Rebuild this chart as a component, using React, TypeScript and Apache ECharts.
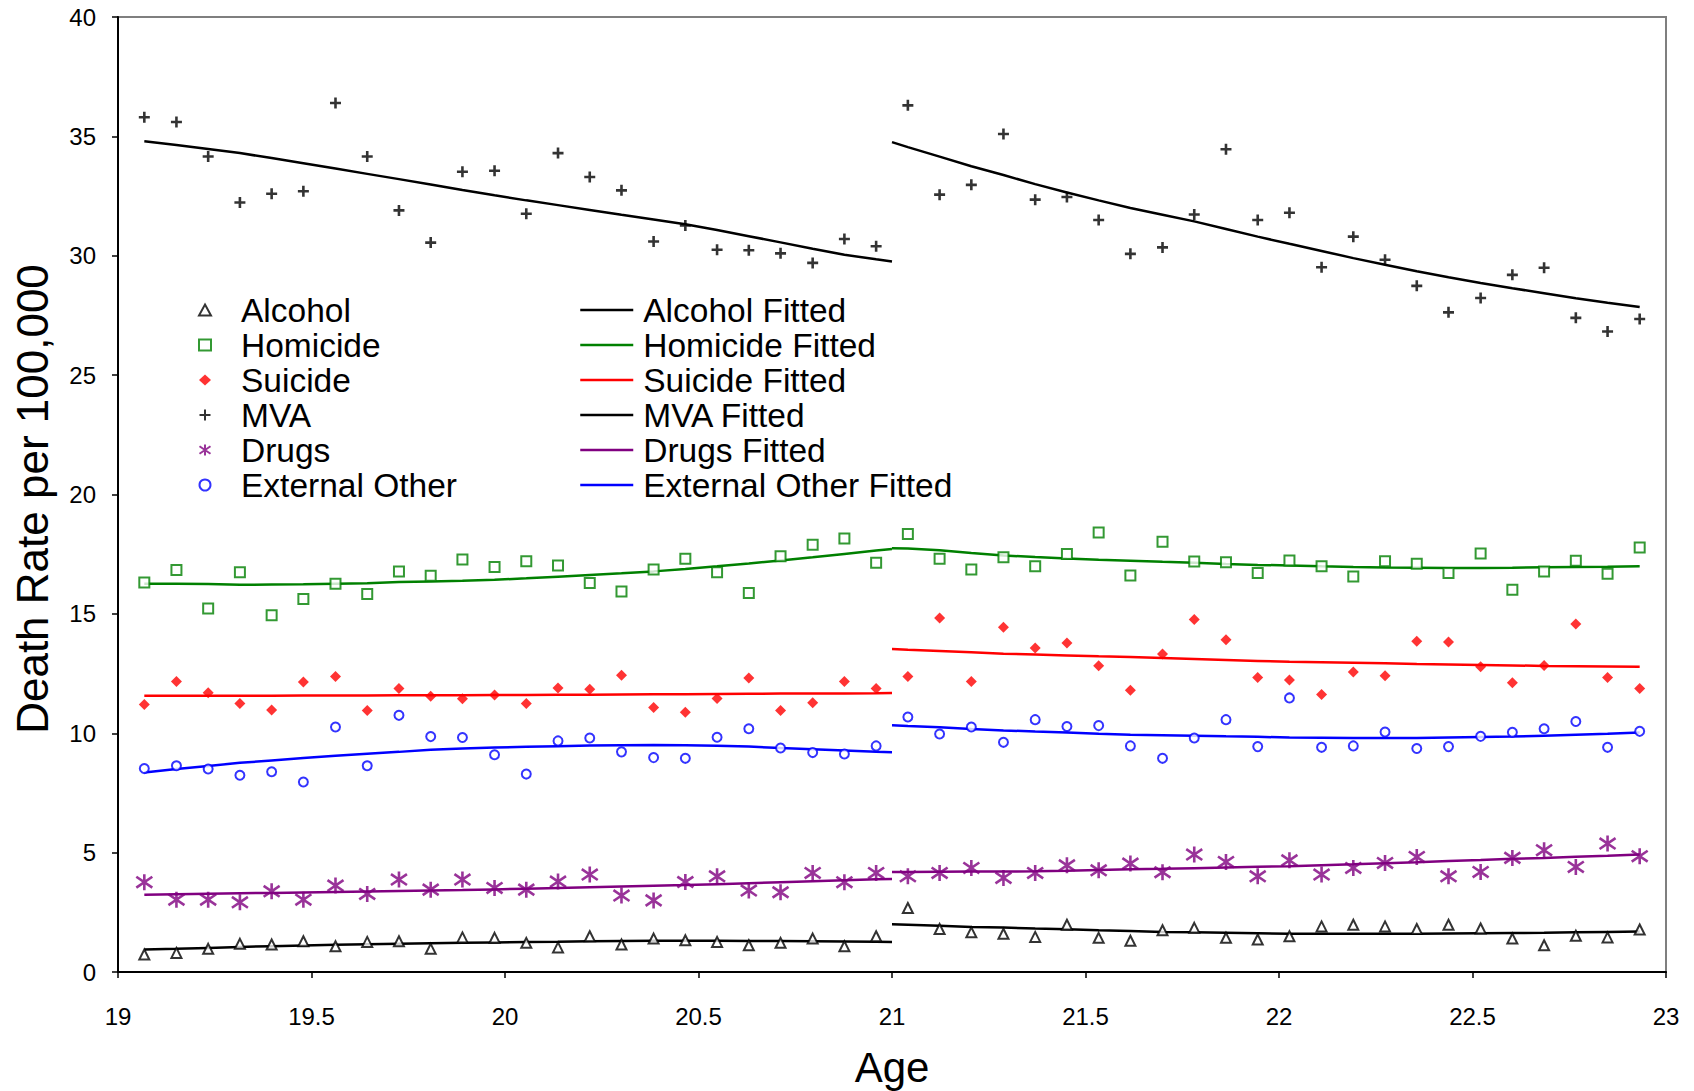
import React, { useEffect, useRef } from "react";
import * as echarts from "echarts";

// Ages (years) of the monthly observations, before and after age 21
const agesLeft = [19.068, 19.151, 19.233, 19.315, 19.397, 19.479, 19.562, 19.644, 19.726, 19.808, 19.89, 19.973, 20.055, 20.137, 20.219, 20.301, 20.384, 20.466, 20.548, 20.63, 20.712, 20.795, 20.877, 20.959];
const agesRight = [21.041, 21.123, 21.205, 21.288, 21.37, 21.452, 21.534, 21.616, 21.699, 21.781, 21.863, 21.945, 22.027, 22.11, 22.192, 22.274, 22.356, 22.438, 22.521, 22.603, 22.685, 22.767, 22.849, 22.932];
const cutoffAge = [21];

// Observed death rates
const alcoholL = [0.73, 0.8, 0.97, 1.18, 1.15, 1.29, 1.08, 1.26, 1.29, 0.97, 1.45, 1.43, 1.22, 1.03, 1.5, 1.15, 1.4, 1.33, 1.26, 1.12, 1.22, 1.4, 1.08, 1.5];
const alcoholR = [2.68, 1.8, 1.66, 1.6, 1.47, 1.98, 1.43, 1.31, 1.75, 1.85, 1.43, 1.36, 1.5, 1.91, 1.98, 1.91, 1.8, 1.98, 1.82, 1.4, 1.12, 1.52, 1.45, 1.78];
const homicideL = [16.31, 16.84, 15.22, 16.74, 14.94, 15.62, 16.26, 15.83, 16.78, 16.6, 17.28, 16.96, 17.2, 17.03, 16.29, 15.94, 16.86, 17.31, 16.74, 15.87, 17.41, 17.9, 18.16, 17.14];
const homicideR = [18.35, 17.31, 16.86, 17.37, 17.0, 17.51, 18.41, 16.61, 18.02, 17.19, 17.16, 16.71, 17.24, 17.0, 16.57, 17.2, 17.1, 16.71, 17.53, 16.01, 16.78, 17.23, 16.68, 17.78];
const suicideL = [11.2, 12.17, 11.7, 11.25, 10.97, 12.15, 12.38, 10.95, 11.87, 11.55, 11.45, 11.6, 11.25, 11.9, 11.84, 12.43, 11.08, 10.88, 11.46, 12.31, 10.95, 11.28, 12.17, 11.87];
const suicideR = [12.38, 14.83, 12.17, 14.44, 13.57, 13.78, 12.83, 11.8, 13.32, 14.76, 13.92, 12.34, 12.23, 11.62, 12.57, 12.41, 13.85, 13.82, 12.79, 12.12, 12.84, 14.58, 12.33, 11.87];
const mvaL = [35.8, 35.6, 34.16, 32.23, 32.6, 32.7, 36.4, 34.16, 31.9, 30.55, 33.52, 33.56, 31.76, 34.3, 33.3, 32.74, 30.6, 31.27, 30.25, 30.23, 30.1, 29.7, 30.7, 30.4];
const mvaR = [36.3, 32.56, 32.97, 35.1, 32.35, 32.46, 31.5, 30.08, 30.35, 31.73, 34.46, 31.5, 31.8, 29.52, 30.8, 29.83, 28.74, 27.63, 28.23, 29.2, 29.5, 27.4, 26.83, 27.35];
const drugsL = [3.76, 3.03, 3.03, 2.92, 3.38, 3.03, 3.62, 3.27, 3.87, 3.45, 3.87, 3.52, 3.45, 3.79, 4.08, 3.2, 3.0, 3.77, 4.01, 3.41, 3.34, 4.15, 3.76, 4.15];
const drugsR = [4.01, 4.15, 4.36, 3.94, 4.15, 4.47, 4.26, 4.54, 4.18, 4.92, 4.61, 4.01, 4.68, 4.08, 4.36, 4.57, 4.82, 4.01, 4.19, 4.78, 5.1, 4.4, 5.38, 4.85];
const externalL = [8.52, 8.64, 8.5, 8.24, 8.39, 7.96, 10.26, 8.64, 10.75, 9.86, 9.82, 9.1, 8.29, 9.68, 9.8, 9.22, 8.98, 8.95, 9.83, 10.19, 9.38, 9.19, 9.13, 9.47];
const externalR = [10.68, 9.97, 10.26, 9.62, 10.57, 10.28, 10.32, 9.47, 8.95, 9.8, 10.57, 9.44, 11.48, 9.41, 9.47, 10.05, 9.36, 9.44, 9.87, 10.04, 10.19, 10.49, 9.41, 10.08];

// Fitted values: left segment (agesLeft then age 21), right segment (age 21 then agesRight)
const alcoholFitL = [0.94, 0.97, 1.01, 1.05, 1.08, 1.11, 1.14, 1.16, 1.18, 1.2, 1.22, 1.24, 1.26, 1.27, 1.29, 1.3, 1.31, 1.31, 1.31, 1.3, 1.3, 1.29, 1.28, 1.27, 1.26];
const alcoholFitR = [2.0, 1.98, 1.94, 1.89, 1.86, 1.82, 1.79, 1.75, 1.72, 1.68, 1.66, 1.64, 1.62, 1.6, 1.6, 1.6, 1.6, 1.6, 1.61, 1.62, 1.63, 1.64, 1.66, 1.68, 1.7];
const homicideFitL = [16.26, 16.26, 16.25, 16.22, 16.23, 16.24, 16.26, 16.28, 16.33, 16.36, 16.39, 16.43, 16.49, 16.56, 16.63, 16.7, 16.78, 16.88, 16.99, 17.11, 17.24, 17.37, 17.51, 17.65, 17.72];
const homicideFitR = [17.75, 17.74, 17.66, 17.55, 17.45, 17.38, 17.32, 17.27, 17.23, 17.18, 17.14, 17.09, 17.05, 17.03, 16.99, 16.96, 16.94, 16.93, 16.92, 16.92, 16.93, 16.95, 16.96, 16.97, 16.99];
const suicideFitL = [11.57, 11.57, 11.57, 11.57, 11.57, 11.58, 11.58, 11.58, 11.59, 11.59, 11.59, 11.6, 11.6, 11.61, 11.61, 11.62, 11.63, 11.63, 11.64, 11.65, 11.66, 11.66, 11.67, 11.68, 11.69];
const suicideFitR = [13.53, 13.5, 13.45, 13.39, 13.33, 13.3, 13.26, 13.22, 13.19, 13.15, 13.11, 13.07, 13.03, 12.99, 12.97, 12.95, 12.93, 12.9, 12.88, 12.86, 12.84, 12.82, 12.81, 12.8, 12.79];
const mvaFitL = [34.8, 34.64, 34.47, 34.3, 34.09, 33.87, 33.65, 33.43, 33.21, 32.98, 32.75, 32.53, 32.32, 32.12, 31.92, 31.72, 31.52, 31.32, 31.08, 30.82, 30.56, 30.29, 30.04, 29.85, 29.76];
const mvaFitR = [34.76, 34.55, 34.15, 33.75, 33.38, 33.0, 32.65, 32.32, 32.0, 31.72, 31.44, 31.12, 30.8, 30.5, 30.2, 29.9, 29.62, 29.35, 29.1, 28.86, 28.64, 28.43, 28.22, 28.03, 27.85];
const drugsFitL = [3.24, 3.26, 3.28, 3.3, 3.31, 3.33, 3.35, 3.37, 3.39, 3.41, 3.43, 3.46, 3.49, 3.52, 3.55, 3.58, 3.61, 3.64, 3.68, 3.72, 3.76, 3.8, 3.84, 3.88, 3.9];
const drugsFitR = [4.19, 4.19, 4.2, 4.21, 4.21, 4.22, 4.24, 4.27, 4.3, 4.32, 4.35, 4.38, 4.41, 4.43, 4.47, 4.51, 4.56, 4.6, 4.65, 4.69, 4.74, 4.78, 4.83, 4.87, 4.92];
const externalFitL = [8.36, 8.5, 8.63, 8.76, 8.86, 8.96, 9.06, 9.14, 9.22, 9.31, 9.36, 9.4, 9.43, 9.46, 9.49, 9.5, 9.51, 9.5, 9.48, 9.44, 9.38, 9.33, 9.28, 9.22, 9.2];
const externalFitR = [10.33, 10.3, 10.25, 10.18, 10.12, 10.07, 10.03, 9.98, 9.94, 9.92, 9.9, 9.87, 9.85, 9.82, 9.81, 9.8, 9.8, 9.8, 9.82, 9.84, 9.86, 9.9, 9.94, 9.98, 10.03];

const observedNames = ["Alcohol", "Homicide", "Suicide", "MVA", "Drugs", "External Other"];
const fittedNames = ["Alcohol Fitted", "Homicide Fitted", "Suicide Fitted", "MVA Fitted", "Drugs Fitted", "External Other Fitted"];

const FONT = "'Liberation Sans', Arial, sans-serif";

const pair = (xs: number[], ys: number[]) => xs.map((x, i) => [x, ys[i]]);

export default function App() {
  const ref = useRef<HTMLDivElement>(null);

  useEffect(() => {
    if (!ref.current) return;
    const chart = echarts.init(ref.current, undefined, { renderer: "svg" });

    const allAges = [...agesLeft, ...agesRight];
    const fitAgesL = [...agesLeft, ...cutoffAge];
    const fitAgesR = [...cutoffAge, ...agesRight];

    const observed = [
      { name: observedNames[0], vals: [...alcoholL, ...alcoholR], symbol: "triangle", size: 10, item: { color: "#fff", borderColor: "#000", borderWidth: 2 } },
      { name: observedNames[1], vals: [...homicideL, ...homicideR], symbol: "rect", size: 10, item: { color: "#fff", borderColor: "#008000", borderWidth: 2 } },
      { name: observedNames[2], vals: [...suicideL, ...suicideR], symbol: "diamond", size: 11, item: { color: "#ff0000" } },
      { name: observedNames[3], vals: [...mvaL, ...mvaR], symbol: "path://M5,0L5,10M0,5L10,5", size: 11, item: { color: "#000", borderColor: "#000", borderWidth: 2.6 } },
      { name: observedNames[4], vals: [...drugsL, ...drugsR], symbol: "path://M5,0L5,10M0,1.6L10,8.4M10,1.6L0,8.4", size: 16, item: { color: "#800080", borderColor: "#800080", borderWidth: 2.6 } },
      { name: observedNames[5], vals: [...externalL, ...externalR], symbol: "circle", size: 9, item: { color: "#fff", borderColor: "#0000ff", borderWidth: 2 } },
    ];

    const fitted = [
      { name: fittedNames[0], l: alcoholFitL, r: alcoholFitR, color: "#000000" },
      { name: fittedNames[1], l: homicideFitL, r: homicideFitR, color: "#008000" },
      { name: fittedNames[2], l: suicideFitL, r: suicideFitR, color: "#ff0000" },
      { name: fittedNames[3], l: mvaFitL, r: mvaFitR, color: "#000000" },
      { name: fittedNames[4], l: drugsFitL, r: drugsFitR, color: "#800080" },
      { name: fittedNames[5], l: externalFitL, r: externalFitR, color: "#0000ff" },
    ];

    const series: any[] = [];
    fitted.forEach((f) => {
      [pair(fitAgesL, f.l), pair(fitAgesR, f.r)].forEach((d) => {
        series.push({
          type: "line",
          name: f.name,
          data: d,
          symbol: "none",
          showSymbol: false,
          z: 2,
          lineStyle: { color: f.color, width: 2.5 },
          itemStyle: { color: f.color },
        });
      });
    });
    observed.forEach((o) => {
      series.push({
        type: "scatter",
        name: o.name,
        data: pair(allAges, o.vals),
        symbol: o.symbol,
        symbolSize: o.size,
        z: 3,
        itemStyle: o.item,
      });
    });

    chart.setOption({
      animation: false,
      backgroundColor: "#ffffff",
      textStyle: { fontFamily: FONT },
      grid: {
        left: 118,
        right: 28,
        top: 17,
        bottom: 119,
        show: true,
        borderColor: "#7f7f7f",
        borderWidth: 2,
        backgroundColor: "transparent",
        containLabel: false,
        outerBoundsMode: "none",
      },
      legend: [
        {
          data: observedNames,
          orient: "vertical",
          left: 198,
          top: 293,
          padding: 0,
          itemWidth: 12,
          itemHeight: 11,
          itemGap: 1,
          selectedMode: false,
          textStyle: { fontFamily: FONT, fontSize: 33.5, color: "#000", lineHeight: 32, padding: [0, 0, 0, 25] },
        },
        {
          data: fittedNames,
          orient: "vertical",
          left: 579,
          top: 293,
          padding: 0,
          itemWidth: 53,
          itemHeight: 11,
          itemGap: 1,
          selectedMode: false,
          itemStyle: { color: "rgba(0,0,0,0)", borderWidth: 0, opacity: 0 },
          lineStyle: { width: 2.5 },
          textStyle: { fontFamily: FONT, fontSize: 33.5, color: "#000", lineHeight: 32, padding: [0, 0, 0, 5] },
        },
      ],
      xAxis: {
        type: "value",
        min: 19,
        max: 23,
        interval: 0.5,
        name: "Age",
        nameLocation: "middle",
        nameGap: 74,
        nameTextStyle: { fontFamily: FONT, fontSize: 42, color: "#000" },
        axisLine: { show: true, onZero: false, lineStyle: { color: "#000", width: 2 } },
        axisTick: { show: true, inside: false, length: 6, lineStyle: { color: "#000", width: 1.5 } },
        axisLabel: { fontFamily: FONT, fontSize: 24, color: "#000", margin: 32 },
        splitLine: { show: false },
      },
      yAxis: {
        type: "value",
        min: 0,
        max: 40,
        interval: 5,
        name: "Death Rate per 100,000",
        nameLocation: "middle",
        nameGap: 64,
        nameTextStyle: { fontFamily: FONT, fontSize: 44, color: "#000", padding: [0, 9, 0, 0] },
        axisLine: { show: true, onZero: false, lineStyle: { color: "#000", width: 2 } },
        axisTick: { show: true, inside: false, length: 6, lineStyle: { color: "#000", width: 1.5 } },
        axisLabel: { fontFamily: FONT, fontSize: 24, color: "#000", margin: 22 },
        splitLine: { show: false },
      },
      series,
    });

    return () => chart.dispose();
  }, []);

  return (
    <div
      ref={ref}
      style={{ position: "fixed", left: 0, top: 0, width: 1694, height: 1091, background: "#fff" }}
    />
  );
}
